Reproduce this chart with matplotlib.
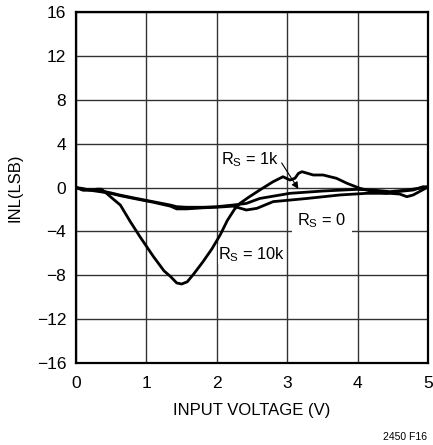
import matplotlib
matplotlib.use("Agg")
import matplotlib.pyplot as plt
from matplotlib import font_manager

names = {f.name for f in font_manager.fontManager.ttflist}
FAM = ['Liberation Sans Narrow'] if 'Liberation Sans Narrow' in names else ['Liberation Sans']
FAM = FAM + ['DejaVu Sans']
plt.rcParams['font.family'] = FAM
plt.rcParams['mathtext.fontset'] = 'custom'
plt.rcParams['mathtext.rm'] = FAM[0]
plt.rcParams['mathtext.it'] = FAM[0]

# ---- data ----
x_10k = [0.0, 0.1, 0.2, 0.3, 0.36, 0.41, 0.5, 0.63, 0.77, 0.91, 1.10, 1.25, 1.34, 1.43, 1.50,
         1.58, 1.67, 1.80, 1.93, 2.05, 2.15, 2.25, 2.33, 2.45, 2.61, 2.80, 2.94, 3.04, 3.11,
         3.16, 3.21, 3.37, 3.51, 3.61, 3.70, 3.85, 4.03, 4.22, 4.41, 4.56, 4.79, 4.93, 5.0]
y_10k = [0.0, -0.1, -0.25, -0.15, -0.15, -0.4, -0.9, -1.6, -3.1, -4.5, -6.3, -7.6, -8.1, -8.7, -8.8,
         -8.6, -7.9, -6.8, -5.6, -4.3, -3.0, -2.0, -1.44, -0.9, -0.23, 0.53, 0.98, 0.68, 0.84,
         1.29, 1.44, 1.14, 1.14, 0.98, 0.84, 0.38, -0.07, -0.38, -0.53, -0.38, -0.23, 0.07, 0.05]

x_1k = [0.0, 0.1, 0.2, 0.36, 0.5, 0.63, 0.86, 1.10, 1.34, 1.43, 1.57, 1.81, 2.0, 2.23, 2.42,
        2.61, 3.04, 3.51, 3.99, 4.22, 4.46, 4.70, 5.0]
y_1k = [0.0, -0.2, -0.2, -0.3, -0.5, -0.7, -1.0, -1.3, -1.6, -1.75, -1.8, -1.8, -1.75, -1.6, -1.45,
        -1.0, -0.53, -0.32, -0.17, -0.23, -0.38, -0.23, 0.05]

x_0 = [0.0, 0.1, 0.2, 0.36, 0.5, 0.63, 0.86, 1.10, 1.34, 1.43, 1.57, 1.81, 2.0, 2.23, 2.42,
       2.57, 2.80, 3.28, 3.75, 4.13, 4.46, 4.60, 4.70, 4.79, 5.0]
y_0 = [0.0, -0.25, -0.25, -0.4, -0.55, -0.75, -1.05, -1.35, -1.7, -1.95, -1.95, -1.85, -1.8, -1.7, -2.05,
       -1.9, -1.29, -1.0, -0.68, -0.53, -0.53, -0.6, -0.84, -0.68, 0.05]

x_ticks = [0, 1, 2, 3, 4, 5]
y_ticks = [-16, -12, -8, -4, 0, 4, 8, 12, 16]
y_ticklabels = ['\u221216', '\u221212', '\u22128', '\u22124', '0', '4', '8', '12', '16']

fig = plt.figure(figsize=(4.33, 4.45), dpi=100)
ax = fig.add_axes([76/433, 1-363/445, 352/433, 351/445])

for xs, ys in [(x_0, y_0), (x_1k, y_1k), (x_10k, y_10k)]:
    ax.plot(xs, ys, color='black', lw=2.0, solid_joinstyle='round', zorder=3)

ax.set_xlim(0, 5)
ax.set_ylim(-16, 16)
ax.set_xticks(x_ticks)
ax.set_yticks(y_ticks)
ax.set_yticklabels(y_ticklabels)
ax.tick_params(length=0, labelsize=12.5)
ax.tick_params(axis='y', pad=7)
ax.tick_params(axis='x', pad=9)
ax.grid(True, color='#333333', lw=1.0)
ax.set_axisbelow(True)
for s in ax.spines.values():
    s.set_linewidth(1.6)

ax.set_xlabel('INPUT VOLTAGE (V)', fontsize=12, labelpad=9)
ax.set_ylabel('INL(LSB)', fontsize=12, labelpad=10)

bb = dict(facecolor='white', edgecolor='none', pad=0.5)
ax.text(2.47, 2.55, r'R$_\mathrm{S}$ = 1k', fontsize=11.8, ha='center', va='center', bbox=bb, zorder=4)
ax.text(3.49, -3.05, r'R$_\mathrm{S}$ = 0', fontsize=11.8, ha='center', va='center',
        bbox=dict(facecolor='white', edgecolor='none', pad=4), zorder=4)
ax.text(2.5, -6.1, r'R$_\mathrm{S}$ = 10k', fontsize=11.8, ha='center', va='center', bbox=bb, zorder=4)
ax.annotate('', xy=(3.18, -0.35), xytext=(2.90, 2.45),
            arrowprops=dict(arrowstyle='-|>', color='black', lw=0.8, mutation_scale=10), zorder=5)

fig.text(427/433, 8/445, '2450 F16', fontsize=7.5, ha='right', va='center')

fig.savefig('out.png', dpi=100)
